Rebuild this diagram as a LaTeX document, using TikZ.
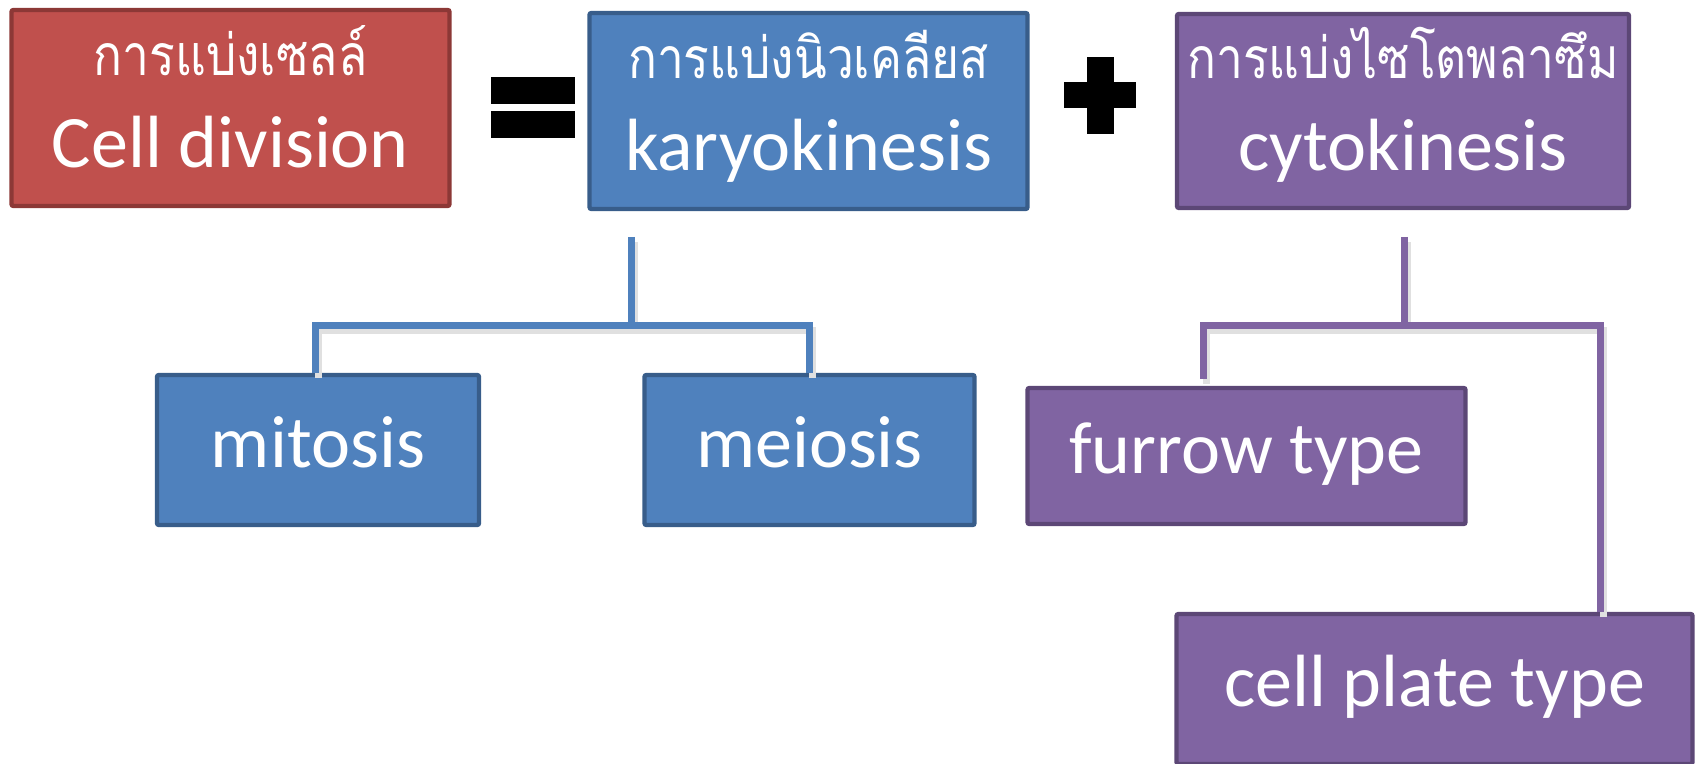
\documentclass[tikz,border=0pt]{standalone}
\usepackage{fontspec}
\setmainfont{Carlito}
\newfontfamily\thaifont[Script=Thai,FakeStretch=0.84]{Loma}
\usepackage{tikz}
\usetikzlibrary{positioning}

\definecolor{divred}{HTML}{C0504D}
\definecolor{divredline}{HTML}{8C3836}
\definecolor{karyoblue}{HTML}{4F81BD}
\definecolor{karyoline}{HTML}{385D8A}
\definecolor{cytopurple}{HTML}{8064A2}
\definecolor{cytoline}{HTML}{5C4776}

\newcommand{\thaitext}{\thaifont\fontsize{28.5pt}{46pt}\selectfont}

\tikzset{
  box/.style={rectangle,line width=2.2pt,rounded corners=1pt,inner sep=0pt,
    text=white,font=\fontsize{37pt}{46pt}\selectfont},
  twoline/.style={align=center,text height=60pt,text depth=0pt},
  oneline/.style={text height=17pt,text depth=0pt},
  redbox/.style={box,fill=divred,draw=divredline},
  bluebox/.style={box,fill=karyoblue,draw=karyoline},
  purplebox/.style={box,fill=cytopurple,draw=cytoline},
  link/.style={line width=3.5pt,
    preaction={draw=black!12,line width=3.5pt,transform canvas={xshift=1.5pt,yshift=-2.5pt}}},
}

\begin{document}
\begin{tikzpicture}[x=0.5pt,y=-0.5pt,on grid]
  \useasboundingbox (0,0) rectangle (1696,764);
  \node[redbox,twoline,minimum width=219pt,minimum height=98pt] (cell) at (230.5,108)
    {{\thaitext การแบ่งเซลล์}\\Cell division};
  \node[bluebox,twoline,minimum width=219pt,minimum height=98pt] (karyo)
    [below right=1.5pt and 289pt of cell] {{\thaitext การแบ่งนิวเคลียส}\\karyokinesis};
  \node[purplebox,twoline,minimum width=226pt,minimum height=97pt] (cyto)
    [right=297.25pt of karyo] {{\thaitext การแบ่งไซโตพลาซึม}\\cytokinesis};
  \node[bluebox,oneline,minimum width=161pt,minimum height=75pt] (mitosis)
    [below left=169.5pt and 245.25pt of karyo] {mitosis};
  \node[bluebox,oneline,minimum width=165pt,minimum height=75pt] (meiosis)
    [right=245.75pt of mitosis] {meiosis};
  \node[purplebox,oneline,minimum width=219pt,minimum height=68pt] (furrow)
    [below left=172.5pt and 78.25pt of cyto] {furrow type};
  \node[purplebox,oneline,minimum width=258pt,minimum height=75pt] (cellplate)
    [below right=116.5pt and 94pt of furrow] {cell plate type};

  % = and +
  \fill (491,77) rectangle (575,104);
  \fill (491,111) rectangle (575,138);
  \fill (1064,82) rectangle (1136,108);
  \fill (1087,57) rectangle (1114,134);

  % branches
  \coordinate (kstem) at (631,237);
  \coordinate (kfork) at (631,326);
  \coordinate (cstem) at (1404,237);
  \coordinate (cfork) at (1404,326);
  \coordinate (fend) at (1203,379);
  \draw[link,karyoblue] (kstem) -- (kfork);
  \draw[link,karyoblue] ([xshift=-1.5pt]mitosis.north) |- (kfork) -| (meiosis.north);
  \draw[link,cytopurple] (cstem) -- (cfork);
  \draw[link,cytopurple] (fend) |- (cfork) -| ([xshift=83pt]cellplate.north);
\end{tikzpicture}
\end{document}
